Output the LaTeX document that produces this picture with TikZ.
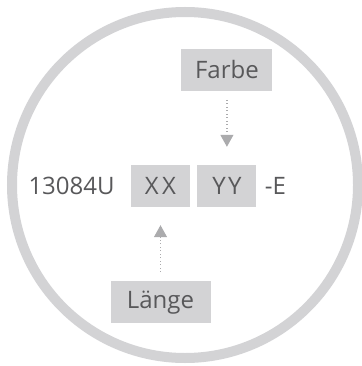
\documentclass[tikz,border=0pt]{standalone}
\usepackage{fontspec}
\setmainfont{Open Sans}
\usepackage{tikz}
\usetikzlibrary{positioning}
\usetikzlibrary{arrows.meta}

\definecolor{ringgray}{HTML}{D3D3D5}
\definecolor{boxgray}{HTML}{D3D3D5}
\definecolor{textgray}{HTML}{58585A}
\definecolor{arrowgray}{HTML}{ABABAD}

\tikzset{
  codebox/.style={fill=boxgray, text=textgray, inner sep=0pt, minimum height=42pt},
  codetext/.style={text=textgray, inner sep=0pt},
  pointer/.style={arrowgray, line width=1.2pt, dash pattern=on 1.2pt off 2.3pt,
    -{Triangle[length=12pt,width=13pt,sep=8pt]}, shorten <=9pt, shorten >=10pt}
}

\begin{document}
\begin{tikzpicture}[x=1pt,y=-1pt,font=\fontsize{24}{29}\selectfont]
  \useasboundingbox (0,0) rectangle (361,366);
  \draw[ringgray, line width=10pt] (185,185) circle (173pt);

  \node[codebox, minimum width=59pt] (xx) at (160.5,186) {\addfontfeature{LetterSpace=14}XX};
  \node[codebox, minimum width=59pt, right=7pt of xx] (yy) {\addfontfeature{LetterSpace=10}YY};
  \node[codebox, minimum width=91pt, above=74pt of yy] (farbe) {Farbe};
  \node[codebox, minimum width=100pt, below=74pt of xx] (laenge) {Länge};

  \node[codetext, left=16pt of xx] (code) {13084U};
  \node[codetext, right=8pt of yy] (suffix) {-E};

  \draw[pointer] (farbe.south) -- (yy.north);
  \draw[pointer] (laenge.north) -- (xx.south);
\end{tikzpicture}
\end{document}
